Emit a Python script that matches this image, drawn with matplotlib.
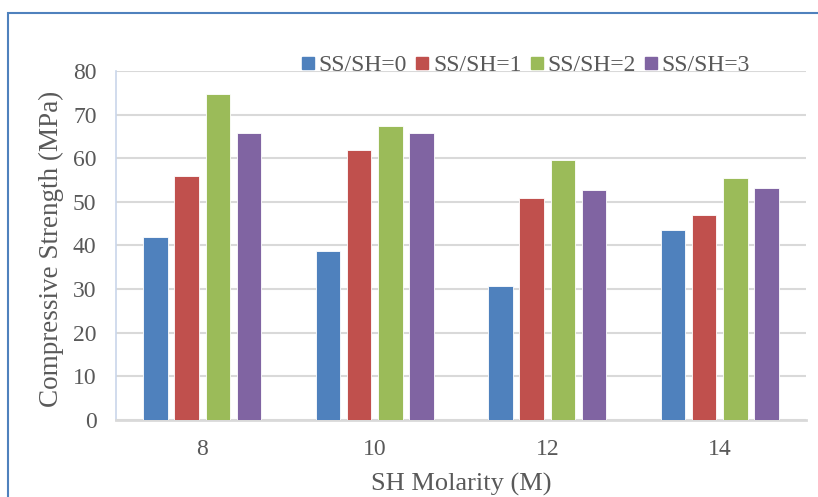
import matplotlib
matplotlib.use("Agg")
import matplotlib.pyplot as plt
from matplotlib.patches import Rectangle
from matplotlib.lines import Line2D
import numpy as np

categories = ["8", "10", "12", "14"]
series_names = ["SS/SH=0", "SS/SH=1", "SS/SH=2", "SS/SH=3"]
ss_sh_0 = [42.0, 38.7, 30.7, 43.6]
ss_sh_1 = [55.9, 61.9, 51.0, 46.9]
ss_sh_2 = [74.7, 67.4, 59.6, 55.5]
ss_sh_3 = [65.9, 65.8, 52.7, 53.1]
yticks = [0, 10, 20, 30, 40, 50, 60, 70, 80]

colors = ["#4F81BD", "#C0504D", "#9BBB59", "#8064A2"]
text_color = "#595959"
font = "Liberation Serif"

fig = plt.figure(figsize=(8.18, 4.97), dpi=100)
ax = fig.add_axes([116/818, 1-420/497, 690/818, 349/497])

x = np.arange(len(categories))
step = 0.18
width = 0.142
all_series = [ss_sh_0, ss_sh_1, ss_sh_2, ss_sh_3]
for i, (vals, c) in enumerate(zip(all_series, colors)):
    ax.bar(x + (i - 1.5) * step, vals, width, color=c, edgecolor="white",
           linewidth=0.6, zorder=3)

ax.set_xlim(-0.5, len(categories) - 0.5)
ax.set_ylim(0, 80)
ax.set_yticks(yticks)
ax.set_xticks(x)
ax.set_xticklabels(categories)
ax.yaxis.grid(True, color="#D9D9D9", linewidth=1.5, zorder=0)
ax.set_axisbelow(True)
for s in ["top", "right"]:
    ax.spines[s].set_visible(False)
ax.spines["left"].set_color("#C9D6EA")
ax.spines["left"].set_linewidth(1.2)
ax.spines["bottom"].set_color("#D9D9D9")
ax.spines["bottom"].set_linewidth(2)
ax.tick_params(axis="both", length=0, labelsize=17, labelcolor=text_color)
ax.tick_params(axis="y", pad=14)
ax.tick_params(axis="x", pad=14)
for lab in ax.get_xticklabels() + ax.get_yticklabels():
    lab.set_fontfamily(font)

ax.set_xlabel("SH Molarity (M)", fontsize=19, color=text_color, family=font)
ax.xaxis.set_label_coords(0.5, (420 - 484) / 349)
ax.xaxis.label.set_va("center")
ax.set_ylabel("Compressive Strength (MPa)", fontsize=19.5, color=text_color, family=font)
ax.yaxis.set_label_coords((51 - 116) / 690, (420 - 249) / 349)
ax.yaxis.label.set_va("center")

handles = [Line2D([], [], marker="s", linestyle="none", markersize=9,
                  markerfacecolor=c, markeredgecolor=c) for c in colors]
fig.legend(handles, series_names, loc="center", ncol=4,
           bbox_to_anchor=(525/818, 1-65/497), frameon=False,
           prop={"family": font, "size": 17}, labelcolor=text_color,
           handlelength=0.7, handletextpad=0.1, columnspacing=0.3,
           borderaxespad=0, borderpad=0)

fig.patches.append(Rectangle((8/818, -0.1), 1.2, 1 - 13/497 + 0.1,
                             transform=fig.transFigure, fill=False,
                             edgecolor="#4F81BD", linewidth=1.5))

fig.savefig("out.png", dpi=100)
